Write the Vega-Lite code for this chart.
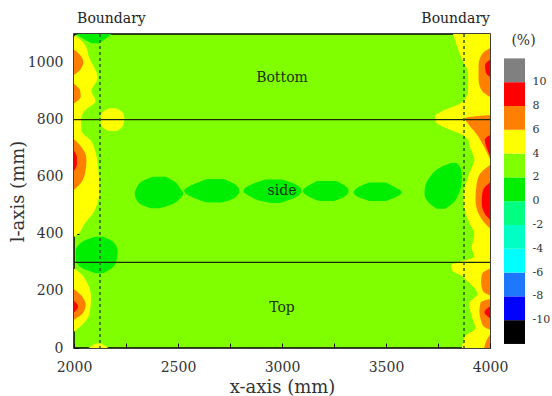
{
  "$schema": "https://vega.github.io/schema/vega-lite/v6.json",
  "padding": {"left": 8, "top": 11, "right": 2, "bottom": 2},
  "bounds": "flush",
  "spacing": 14,
  "background": "white",
  "config": {
    "font": "DejaVu Serif",
    "axis": {"labelFont": "DejaVu Serif", "titleFont": "DejaVu Serif", "labelColor": "#333", "titleColor": "#333", "titleFontWeight": "normal", "tickColor": "#111", "domainColor": "#000", "labelFlush": false, "labelOverlap": false}
  },
  "datasets": {
    "reg": [
      {"r":"LY","v":4,"l":390,"a":2000,"b":2002},
      {"r":"LY","v":4,"l":400,"a":2000,"b":2020},
      {"r":"LY","v":4,"l":434,"a":2000,"b":2050},
      {"r":"LY","v":4,"l":480,"a":2000,"b":2098},
      {"r":"LY","v":4,"l":550,"a":2000,"b":2122},
      {"r":"LY","v":4,"l":645,"a":2000,"b":2114},
      {"r":"LY","v":4,"l":725,"a":2000,"b":2082},
      {"r":"LY","v":4,"l":760,"a":2000,"b":2036},
      {"r":"LY","v":4,"l":795,"a":2000,"b":2034},
      {"r":"LY","v":4,"l":830,"a":2000,"b":2050},
      {"r":"LY","v":4,"l":865,"a":2000,"b":2104},
      {"r":"LY","v":4,"l":900,"a":2000,"b":2084},
      {"r":"LY","v":4,"l":946,"a":2000,"b":2114},
      {"r":"LY","v":4,"l":1016,"a":2000,"b":2074},
      {"r":"LY","v":4,"l":1065,"a":2000,"b":2050},
      {"r":"LY","v":4,"l":1092,"a":2000,"b":2010},
      {"r":"LYB","v":4,"l":760,"a":2165,"b":2205},
      {"r":"LYB","v":4,"l":772,"a":2140,"b":2228},
      {"r":"LYB","v":4,"l":790,"a":2128,"b":2240},
      {"r":"LYB","v":4,"l":810,"a":2128,"b":2242},
      {"r":"LYB","v":4,"l":828,"a":2140,"b":2230},
      {"r":"LYB","v":4,"l":840,"a":2170,"b":2200},
      {"r":"LYb","v":4,"l":58,"a":2000,"b":2002},
      {"r":"LYb","v":4,"l":84,"a":2000,"b":2043},
      {"r":"LYb","v":4,"l":119,"a":2000,"b":2074},
      {"r":"LYb","v":4,"l":177,"a":2000,"b":2082},
      {"r":"LYb","v":4,"l":224,"a":2000,"b":2066},
      {"r":"LYb","v":4,"l":260,"a":2000,"b":2034},
      {"r":"LYb","v":4,"l":278,"a":2000,"b":2002},
      {"r":"LYc","v":4,"l":0,"a":2070,"b":2165},
      {"r":"LYc","v":4,"l":8,"a":2085,"b":2150},
      {"r":"LYc","v":4,"l":16,"a":2105,"b":2130},
      {"r":"RY","v":4,"l":0,"a":3865,"b":4000},
      {"r":"RY","v":4,"l":40,"a":3880,"b":4000},
      {"r":"RY","v":4,"l":70,"a":3930,"b":4000},
      {"r":"RY","v":4,"l":105,"a":3915,"b":4000},
      {"r":"RY","v":4,"l":155,"a":3900,"b":4000},
      {"r":"RY","v":4,"l":190,"a":3940,"b":4000},
      {"r":"RY","v":4,"l":235,"a":3890,"b":4000},
      {"r":"RY","v":4,"l":255,"a":3860,"b":4000},
      {"r":"RY","v":4,"l":270,"a":3820,"b":4000},
      {"r":"RY","v":4,"l":290,"a":3812,"b":4000},
      {"r":"RY","v":4,"l":305,"a":3870,"b":4000},
      {"r":"RY","v":4,"l":320,"a":3925,"b":4000},
      {"r":"RY","v":4,"l":350,"a":3912,"b":4000},
      {"r":"RY","v":4,"l":400,"a":3925,"b":4000},
      {"r":"RY","v":4,"l":440,"a":3900,"b":4000},
      {"r":"RY","v":4,"l":490,"a":3876,"b":4000},
      {"r":"RY","v":4,"l":530,"a":3870,"b":4000},
      {"r":"RY","v":4,"l":580,"a":3886,"b":4000},
      {"r":"RY","v":4,"l":620,"a":3905,"b":4000},
      {"r":"RY","v":4,"l":660,"a":3925,"b":4000},
      {"r":"RY","v":4,"l":700,"a":3905,"b":4000},
      {"r":"RY","v":4,"l":730,"a":3895,"b":4000},
      {"r":"RY","v":4,"l":750,"a":3860,"b":4000},
      {"r":"RY","v":4,"l":770,"a":3790,"b":4000},
      {"r":"RY","v":4,"l":790,"a":3742,"b":4000},
      {"r":"RY","v":4,"l":810,"a":3735,"b":4000},
      {"r":"RY","v":4,"l":830,"a":3770,"b":4000},
      {"r":"RY","v":4,"l":850,"a":3840,"b":4000},
      {"r":"RY","v":4,"l":870,"a":3878,"b":4000},
      {"r":"RY","v":4,"l":900,"a":3895,"b":4000},
      {"r":"RY","v":4,"l":960,"a":3895,"b":4000},
      {"r":"RY","v":4,"l":1020,"a":3860,"b":4000},
      {"r":"RY","v":4,"l":1060,"a":3840,"b":4000},
      {"r":"RY","v":4,"l":1100,"a":3822,"b":4000},
      {"r":"LGT","v":0,"l":1068,"a":2085,"b":2120},
      {"r":"LGT","v":0,"l":1085,"a":2040,"b":2155},
      {"r":"LGT","v":0,"l":1100,"a":2012,"b":2180},
      {"r":"LG","v":0,"l":262,"a":2105,"b":2140},
      {"r":"LG","v":0,"l":282,"a":2035,"b":2185},
      {"r":"LG","v":0,"l":310,"a":2008,"b":2205},
      {"r":"LG","v":0,"l":340,"a":2008,"b":2210},
      {"r":"LG","v":0,"l":370,"a":2035,"b":2192},
      {"r":"LG","v":0,"l":390,"a":2100,"b":2140},
      {"r":"B1","v":0,"l":490,"a":2370,"b":2410},
      {"r":"B1","v":0,"l":500,"a":2330,"b":2460},
      {"r":"B1","v":0,"l":520,"a":2300,"b":2505},
      {"r":"B1","v":0,"l":540,"a":2292,"b":2525},
      {"r":"B1","v":0,"l":560,"a":2300,"b":2510},
      {"r":"B1","v":0,"l":585,"a":2330,"b":2480},
      {"r":"B1","v":0,"l":600,"a":2380,"b":2440},
      {"r":"B2","v":0,"l":510,"a":2640,"b":2710},
      {"r":"B2","v":0,"l":525,"a":2580,"b":2770},
      {"r":"B2","v":0,"l":550,"a":2530,"b":2795},
      {"r":"B2","v":0,"l":575,"a":2580,"b":2770},
      {"r":"B2","v":0,"l":592,"a":2640,"b":2720},
      {"r":"B3","v":0,"l":508,"a":2950,"b":2990},
      {"r":"B3","v":0,"l":515,"a":2900,"b":3020},
      {"r":"B3","v":0,"l":530,"a":2850,"b":3070},
      {"r":"B3","v":0,"l":550,"a":2815,"b":3095},
      {"r":"B3","v":0,"l":575,"a":2860,"b":3060},
      {"r":"B3","v":0,"l":590,"a":2920,"b":3000},
      {"r":"B4","v":0,"l":515,"a":3180,"b":3250},
      {"r":"B4","v":0,"l":530,"a":3130,"b":3300},
      {"r":"B4","v":0,"l":550,"a":3100,"b":3320},
      {"r":"B4","v":0,"l":570,"a":3130,"b":3300},
      {"r":"B4","v":0,"l":585,"a":3170,"b":3260},
      {"r":"B5","v":0,"l":515,"a":3420,"b":3500},
      {"r":"B5","v":0,"l":528,"a":3370,"b":3545},
      {"r":"B5","v":0,"l":545,"a":3345,"b":3575},
      {"r":"B5","v":0,"l":565,"a":3370,"b":3540},
      {"r":"B5","v":0,"l":580,"a":3420,"b":3500},
      {"r":"RG","v":0,"l":488,"a":3745,"b":3785},
      {"r":"RG","v":0,"l":510,"a":3705,"b":3825},
      {"r":"RG","v":0,"l":540,"a":3685,"b":3850},
      {"r":"RG","v":0,"l":570,"a":3690,"b":3862},
      {"r":"RG","v":0,"l":600,"a":3712,"b":3865},
      {"r":"RG","v":0,"l":630,"a":3755,"b":3858},
      {"r":"RG","v":0,"l":648,"a":3812,"b":3840},
      {"r":"LO1","v":6,"l":958,"a":2000,"b":2002},
      {"r":"LO1","v":6,"l":975,"a":2000,"b":2030},
      {"r":"LO1","v":6,"l":1000,"a":2000,"b":2045},
      {"r":"LO1","v":6,"l":1020,"a":2000,"b":2036},
      {"r":"LO1","v":6,"l":1045,"a":2000,"b":2002},
      {"r":"LO2","v":6,"l":858,"a":2000,"b":2002},
      {"r":"LO2","v":6,"l":880,"a":2000,"b":2032},
      {"r":"LO2","v":6,"l":900,"a":2000,"b":2030},
      {"r":"LO2","v":6,"l":925,"a":2000,"b":2002},
      {"r":"LO3","v":6,"l":555,"a":2000,"b":2002},
      {"r":"LO3","v":6,"l":580,"a":2000,"b":2035},
      {"r":"LO3","v":6,"l":620,"a":2000,"b":2055},
      {"r":"LO3","v":6,"l":660,"a":2000,"b":2060},
      {"r":"LO3","v":6,"l":700,"a":2000,"b":2040},
      {"r":"LO3","v":6,"l":730,"a":2000,"b":2002},
      {"r":"LO4","v":6,"l":100,"a":2000,"b":2002},
      {"r":"LO4","v":6,"l":120,"a":2000,"b":2040},
      {"r":"LO4","v":6,"l":150,"a":2000,"b":2056},
      {"r":"LO4","v":6,"l":180,"a":2000,"b":2040},
      {"r":"LO4","v":6,"l":205,"a":2000,"b":2002},
      {"r":"RO1","v":6,"l":880,"a":3998,"b":4000},
      {"r":"RO1","v":6,"l":900,"a":3962,"b":4000},
      {"r":"RO1","v":6,"l":940,"a":3945,"b":4000},
      {"r":"RO1","v":6,"l":990,"a":3945,"b":4000},
      {"r":"RO1","v":6,"l":1030,"a":3962,"b":4000},
      {"r":"RO1","v":6,"l":1050,"a":3998,"b":4000},
      {"r":"RO2","v":6,"l":665,"a":3998,"b":4000},
      {"r":"RO2","v":6,"l":700,"a":3975,"b":4000},
      {"r":"RO2","v":6,"l":750,"a":3935,"b":4000},
      {"r":"RO2","v":6,"l":790,"a":3890,"b":4000},
      {"r":"RO2","v":6,"l":805,"a":3880,"b":4000},
      {"r":"RO2","v":6,"l":815,"a":3990,"b":4000},
      {"r":"RO3","v":6,"l":420,"a":3998,"b":4000},
      {"r":"RO3","v":6,"l":440,"a":3972,"b":4000},
      {"r":"RO3","v":6,"l":480,"a":3940,"b":4000},
      {"r":"RO3","v":6,"l":520,"a":3930,"b":4000},
      {"r":"RO3","v":6,"l":570,"a":3935,"b":4000},
      {"r":"RO3","v":6,"l":610,"a":3952,"b":4000},
      {"r":"RO3","v":6,"l":640,"a":3998,"b":4000},
      {"r":"RO4","v":6,"l":185,"a":3998,"b":4000},
      {"r":"RO4","v":6,"l":200,"a":3965,"b":4000},
      {"r":"RO4","v":6,"l":230,"a":3957,"b":4000},
      {"r":"RO4","v":6,"l":260,"a":3962,"b":4000},
      {"r":"RO4","v":6,"l":278,"a":3998,"b":4000},
      {"r":"RO5","v":6,"l":65,"a":3998,"b":4000},
      {"r":"RO5","v":6,"l":75,"a":3970,"b":4000},
      {"r":"RO5","v":6,"l":100,"a":3955,"b":4000},
      {"r":"RO5","v":6,"l":130,"a":3949,"b":4000},
      {"r":"RO5","v":6,"l":160,"a":3955,"b":4000},
      {"r":"RO5","v":6,"l":172,"a":3998,"b":4000},
      {"r":"RO6","v":6,"l":0,"a":3972,"b":4000},
      {"r":"RO6","v":6,"l":25,"a":3982,"b":4000},
      {"r":"RO6","v":6,"l":45,"a":3998,"b":4000},
      {"r":"LR3","v":8,"l":622,"a":2000,"b":2001},
      {"r":"LR3","v":8,"l":645,"a":2000,"b":2014},
      {"r":"LR3","v":8,"l":668,"a":2000,"b":2014},
      {"r":"LR3","v":8,"l":690,"a":2000,"b":2001},
      {"r":"LR4","v":8,"l":125,"a":2000,"b":2001},
      {"r":"LR4","v":8,"l":145,"a":2000,"b":2020},
      {"r":"LR4","v":8,"l":165,"a":2000,"b":2001},
      {"r":"RR1","v":8,"l":950,"a":3999,"b":4000},
      {"r":"RR1","v":8,"l":965,"a":3980,"b":4000},
      {"r":"RR1","v":8,"l":990,"a":3976,"b":4000},
      {"r":"RR1","v":8,"l":1010,"a":3999,"b":4000},
      {"r":"RR2","v":8,"l":675,"a":3999,"b":4000},
      {"r":"RR2","v":8,"l":700,"a":3985,"b":4000},
      {"r":"RR2","v":8,"l":730,"a":3975,"b":4000},
      {"r":"RR2","v":8,"l":745,"a":3999,"b":4000},
      {"r":"RR3","v":8,"l":450,"a":3999,"b":4000},
      {"r":"RR3","v":8,"l":470,"a":3975,"b":4000},
      {"r":"RR3","v":8,"l":510,"a":3960,"b":4000},
      {"r":"RR3","v":8,"l":550,"a":3965,"b":4000},
      {"r":"RR3","v":8,"l":580,"a":3999,"b":4000},
      {"r":"RR5","v":8,"l":105,"a":3999,"b":4000},
      {"r":"RR5","v":8,"l":125,"a":3973,"b":4000},
      {"r":"RR5","v":8,"l":145,"a":3999,"b":4000}
    ],
    "bar": [
      {"lo":-12,"hi":-10},{"lo":-10,"hi":-8},{"lo":-8,"hi":-6},{"lo":-6,"hi":-4},
      {"lo":-4,"hi":-2},{"lo":-2,"hi":0},{"lo":0,"hi":2},{"lo":2,"hi":4},
      {"lo":4,"hi":6},{"lo":6,"hi":8},{"lo":8,"hi":10},{"lo":10,"hi":12}
    ],
    "ticks": [
      {"k":-10},{"k":-8},{"k":-6},{"k":-4},{"k":-2},{"k":0},{"k":2},{"k":4},{"k":6},{"k":8},{"k":10}
    ]
  },
  "hconcat": [
    {
      "width": 416,
      "height": 314,
      "view": {"fill": "#80ff00", "stroke": "#000", "strokeWidth": 1.5},
      "layer": [
        {
          "data": {"name": "reg"},
          "transform": [{"filter": "datum.v === 4"}],
          "mark": {"type": "area", "orient": "horizontal", "interpolate": "monotone"},
          "encoding": {
            "y": {"field": "l", "type": "quantitative", "scale": {"domain": [0, 1100], "nice": false, "zero": false},
              "axis": {"title": "l-axis (mm)", "values": [0,100,200,300,400,500,600,700,800,900,1000], "labelExpr": "datum.value % 200 === 0 ? '' + datum.value : ''", "tickSize": -5, "labelPadding": 16, "grid": false, "domain": false, "labelFontSize": 14, "titleFontSize": 18, "titlePadding": 0, "labelOverlap": false, "labelFlush": false}},
            "x": {"field": "a", "type": "quantitative", "stack": null, "scale": {"domain": [2000, 4000], "nice": false, "zero": false},
              "axis": {"title": "x-axis (mm)", "values": [2000,2250,2500,2750,3000,3250,3500,3750,4000], "labelExpr": "datum.value % 500 === 0 ? '' + datum.value : ''", "tickSize": -5, "labelPadding": 17, "grid": false, "domain": false, "labelFontSize": 14, "titleFontSize": 18, "titlePadding": 4, "labelOverlap": false, "labelFlush": false}},
            "x2": {"field": "b"},
            "detail": {"field": "r"},
            "color": {"field": "v", "type": "ordinal", "legend": null,
              "scale": {"domain": [-12,-10,-8,-6,-4,-2,0,2,4,6,8,10], "range": ["#000000","#0000ff","#1e78ff","#00ffff","#00ffc4","#00ff80","#00ee00","#80ff00","#ffff00","#ff8000","#ff0000","#808080"]}}
          }
        },
        {
          "data": {"name": "reg"},
          "transform": [{"filter": "datum.v === 0"}],
          "mark": {"type": "area", "orient": "horizontal", "interpolate": "monotone"},
          "encoding": {
            "y": {"field": "l", "type": "quantitative"},
            "x": {"field": "a", "type": "quantitative", "stack": null},
            "x2": {"field": "b"},
            "detail": {"field": "r"},
            "color": {"field": "v", "type": "ordinal", "legend": null}
          }
        },
        {
          "data": {"name": "reg"},
          "transform": [{"filter": "datum.v === 6"}],
          "mark": {"type": "area", "orient": "horizontal", "interpolate": "monotone"},
          "encoding": {
            "y": {"field": "l", "type": "quantitative"},
            "x": {"field": "a", "type": "quantitative", "stack": null},
            "x2": {"field": "b"},
            "detail": {"field": "r"},
            "color": {"field": "v", "type": "ordinal", "legend": null}
          }
        },
        {
          "data": {"name": "reg"},
          "transform": [{"filter": "datum.v === 8"}],
          "mark": {"type": "area", "orient": "horizontal", "interpolate": "monotone"},
          "encoding": {
            "y": {"field": "l", "type": "quantitative"},
            "x": {"field": "a", "type": "quantitative", "stack": null},
            "x2": {"field": "b"},
            "detail": {"field": "r"},
            "color": {"field": "v", "type": "ordinal", "legend": null}
          }
        },
        {
          "data": {"values": [{"l": 300}, {"l": 800}]},
          "mark": {"type": "rule", "color": "#1c2a0c", "strokeWidth": 1.2},
          "encoding": {"y": {"field": "l", "type": "quantitative"}}
        },
        {
          "data": {"values": [{"a": 2125}, {"a": 3875}]},
          "mark": {"type": "rule", "color": "#2a5a14", "strokeDash": [3, 3], "strokeWidth": 1.5},
          "encoding": {"x": {"field": "a", "type": "quantitative"}}
        },
        {
          "data": {"values": [{"a": 3000, "l": 946, "t": "Bottom"}, {"a": 3000, "l": 550, "t": "side"}, {"a": 3000, "l": 140, "t": "Top"}]},
          "mark": {"type": "text", "fontSize": 14, "color": "#1e3010", "font": "DejaVu Serif"},
          "encoding": {"x": {"field": "a", "type": "quantitative"}, "y": {"field": "l", "type": "quantitative"}, "text": {"field": "t"}}
        },
        {
          "data": {"values": [{"a": 2180, "l": 1100, "t": "Boundary"}, {"a": 3835, "l": 1100, "t": "Boundary"}]},
          "mark": {"type": "text", "fontSize": 14, "color": "#222", "baseline": "alphabetic", "dy": -11, "font": "DejaVu Serif"},
          "encoding": {"x": {"field": "a", "type": "quantitative"}, "y": {"field": "l", "type": "quantitative"}, "text": {"field": "t"}}
        }
      ]
    },
    {
      "width": 21,
      "height": 314,
      "view": {"stroke": null},
      "layer": [
        {
          "data": {"name": "bar"},
          "mark": "rect",
          "encoding": {
            "y": {"field": "lo", "type": "quantitative", "scale": {"domain": [-12.34, 14.05], "nice": false, "zero": false}, "axis": null},
            "y2": {"field": "hi"},
            "color": {"field": "lo", "type": "ordinal", "legend": null,
              "scale": {"domain": [-12,-10,-8,-6,-4,-2,0,2,4,6,8,10], "range": ["#000000","#0000ff","#1e78ff","#00ffff","#00ffc4","#00ff80","#00ee00","#80ff00","#ffff00","#ff8000","#ff0000","#808080"]}}
          }
        },
        {
          "data": {"name": "ticks"},
          "mark": {"type": "text", "fontSize": 11, "align": "left", "baseline": "middle", "dx": 18, "color": "#333", "font": "DejaVu Serif"},
          "encoding": {"y": {"field": "k", "type": "quantitative", "axis": null}, "text": {"field": "k", "type": "nominal"}}
        },
        {
          "data": {"values": [{"t": "(%)", "p": 13.5}]},
          "mark": {"type": "text", "fontSize": 14, "dx": 9, "color": "#333", "font": "DejaVu Serif"},
          "encoding": {"y": {"field": "p", "type": "quantitative", "axis": null}, "text": {"field": "t"}}
        }
      ]
    }
  ]
}
